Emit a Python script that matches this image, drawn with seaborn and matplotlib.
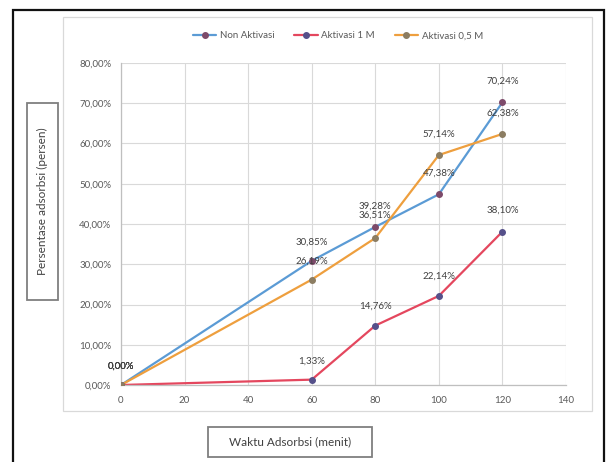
import matplotlib
matplotlib.use("Agg")
import matplotlib.pyplot as plt
from matplotlib.patches import Rectangle
from matplotlib.ticker import FuncFormatter, MultipleLocator
import pandas as pd
import seaborn as sns

# Adsorption time (minutes)
waktu = [0, 60, 80, 100, 120]

# Adsorption percentage per treatment
non_aktivasi = [0.00, 30.85, 39.28, 47.38, 70.24]
aktivasi_1m = [0.00, 1.33, 14.76, 22.14, 38.10]
aktivasi_05m = [0.00, 26.19, 36.51, 57.14, 62.38]

series_names = ["Non Aktivasi", "Aktivasi 1 M", "Aktivasi 0,5 M"]
series_values = [non_aktivasi, aktivasi_1m, aktivasi_05m]

x_ticks = [0, 20, 40, 60, 80, 100, 120, 140]

df = pd.DataFrame(
    [(t, v, name) for name, vals in zip(series_names, series_values)
     for t, v in zip(waktu, vals)],
    columns=["Waktu", "Persen", "Seri"],
)

line_colors = {"Non Aktivasi": "#5b9bd5", "Aktivasi 1 M": "#e4475e",
               "Aktivasi 0,5 M": "#ee9f3e"}
marker_colors = {"Non Aktivasi": "#7d4a6a", "Aktivasi 1 M": "#55508a",
                 "Aktivasi 0,5 M": "#8c7d62"}

sns.set_style("white")
plt.rcParams["font.family"] = ["Lato", "DejaVu Sans"]

W, H = 613, 462
fig = plt.figure(figsize=(W / 100, H / 100), dpi=100)


def fx(px):
    return px / W


def fy(py):
    return 1 - py / H


# outer frame and chart-area border
fig.patches.append(Rectangle((fx(13), fy(480)), fx(604) - fx(13), fy(10) - fy(480),
                             transform=fig.transFigure, fill=False,
                             edgecolor="#111111", linewidth=1.6))
fig.patches.append(Rectangle((fx(63), fy(411)), fx(592) - fx(63), fy(17) - fy(411),
                             transform=fig.transFigure, fill=False,
                             edgecolor="#d9d9d9", linewidth=0.9))

ax = fig.add_axes([fx(121), fy(385), fx(566) - fx(121), fy(63) - fy(385)])

sns.lineplot(data=df, x="Waktu", y="Persen", hue="Seri", hue_order=series_names,
             palette=line_colors, linewidth=1.6, ax=ax, legend=False)

# point markers per series
for name, vals in zip(series_names, series_values):
    ax.plot(waktu, vals, linestyle="none", marker="o", markersize=4,
            markerfacecolor=marker_colors[name], markeredgecolor=marker_colors[name],
            zorder=4)

ax.set_xlim(0, 140)
ax.set_ylim(0, 80)
ax.set_xticks(x_ticks)
ax.yaxis.set_major_locator(MultipleLocator(10))
ax.yaxis.set_major_formatter(FuncFormatter(lambda v, _: f"{v:.2f}%".replace(".", ",")))
ax.tick_params(axis="both", length=0, labelsize=7, labelcolor="#595959")
ax.tick_params(axis="y", pad=7)
ax.tick_params(axis="x", pad=8)
ax.grid(True, color="#d9d9d9", linewidth=0.8)
ax.set_axisbelow(True)
for side in ("top", "right"):
    ax.spines[side].set_visible(False)
for side in ("left", "bottom"):
    ax.spines[side].set_color("#bfbfbf")
    ax.spines[side].set_linewidth(0.9)
ax.set_xlabel("")
ax.set_ylabel("")

# value labels above each point
label_offsets = {
    "Non Aktivasi": [(0, 10), (0, 10), (0, 12), (0, 12), (0, 12)],
    "Aktivasi 1 M": [(0, 10), (0, 10), (0, 11), (0, 11), (0, 12)],
    "Aktivasi 0,5 M": [(0, 10), (0, 10), (0, 13), (0, 12), (0, 12)],
}
for name, vals in zip(series_names, series_values):
    for i, (t, v) in enumerate(zip(waktu, vals)):
        ax.annotate(f"{v:.2f}%".replace(".", ","), (t, v),
                    xytext=label_offsets[name][i], textcoords="offset points",
                    ha="center", va="bottom", fontsize=7, color="#404040",
                    annotation_clip=False, zorder=5)

# legend across the top
handles = [plt.Line2D([], [], color=line_colors[n], linewidth=1.6, marker="o",
                      markersize=4, markerfacecolor=marker_colors[n],
                      markeredgecolor=marker_colors[n]) for n in series_names]
fig.legend(handles, series_names, loc="center", bbox_to_anchor=(fx(338), fy(36)),
           ncol=3, frameon=False, fontsize=7, labelcolor="#595959",
           handlelength=2.4, columnspacing=2.0, handletextpad=0.4)

# boxed axis titles
fig.patches.append(Rectangle((fx(27), fy(300)), fx(58) - fx(27), fy(103) - fy(300),
                             transform=fig.transFigure, fill=False,
                             edgecolor="#7f7f7f", linewidth=1.3))
fig.text(fx(42.5), fy(201.5), "Persentase adsorbsi (persen)", rotation=90,
         ha="center", va="center", fontsize=8.5, color="#404040")
fig.patches.append(Rectangle((fx(208), fy(457)), fx(372) - fx(208), fy(427) - fy(457),
                             transform=fig.transFigure, fill=False,
                             edgecolor="#7f7f7f", linewidth=1.3))
fig.text(fx(290), fy(442), "Waktu Adsorbsi (menit)", ha="center", va="center",
         fontsize=8.5, color="#404040")

fig.savefig("out.png", dpi=100)
